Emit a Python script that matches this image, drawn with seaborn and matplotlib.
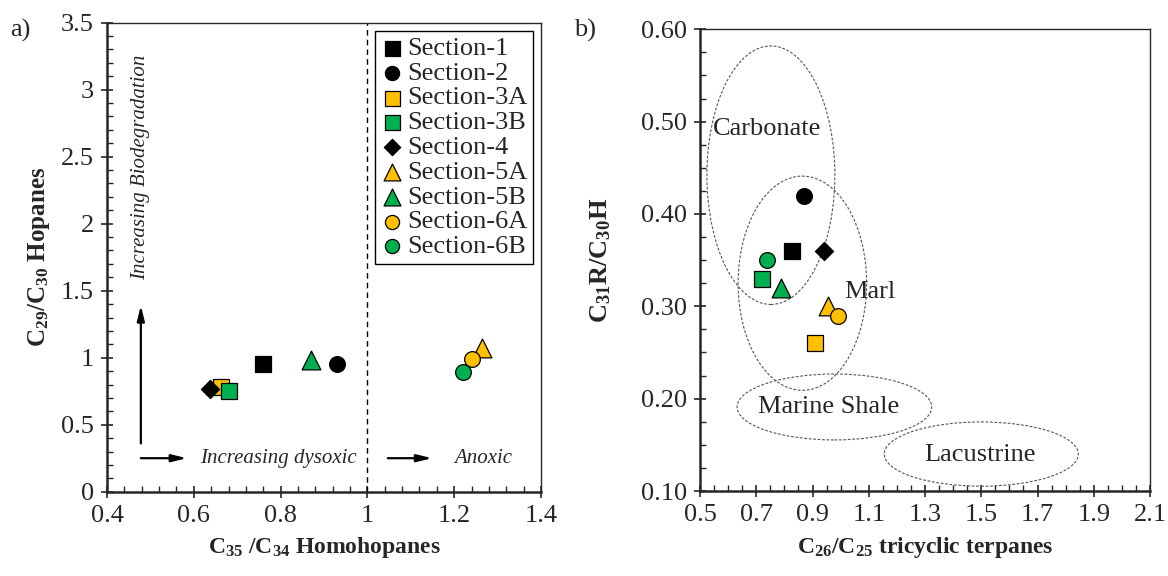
import numpy as np
import matplotlib
matplotlib.use("Agg")
import matplotlib.pyplot as plt
from matplotlib.patches import Ellipse
from matplotlib.ticker import MultipleLocator
import seaborn as sns

# ---- data -------------------------------------------------------------
sections = ["Section-1", "Section-2", "Section-3A", "Section-3B", "Section-4",
            "Section-5A", "Section-5B", "Section-6A", "Section-6B"]
markers = ["s", "o", "s", "s", "D", "^", "^", "o", "o"]
colors = ["#000000", "#000000", "#FFC000", "#00B050", "#000000",
          "#FFC000", "#00B050", "#FFC000", "#00B050"]
sizes = [144, 128, 144, 144, 85, 182, 182, 128, 128]

# panel a: C35/C34 homohopanes vs C29/C30 hopanes
homohopane_ratio = [0.76, 0.93, 0.663, 0.681, 0.637, 1.264, 0.87, 1.241, 1.22]
hopane_ratio = [0.95, 0.95, 0.78, 0.755, 0.77, 1.07, 0.98, 0.99, 0.89]

# panel b: C26/C25 tricyclic terpanes vs C31R/C30H
tricyclic_ratio = [0.828, 0.869, 0.909, 0.719, 0.94, 0.956, 0.788, 0.992, 0.739]
c31r_ratio = [0.36, 0.42, 0.26, 0.33, 0.36, 0.30, 0.32, 0.29, 0.35]

# tick labels
a_xticks = [0.4, 0.6, 0.8, 1.0, 1.2, 1.4]
a_xticklabels = ["0.4", "0.6", "0.8", "1", "1.2", "1.4"]
a_yticks = [0, 0.5, 1, 1.5, 2, 2.5, 3, 3.5]
a_yticklabels = ["0", "0.5", "1", "1.5", "2", "2.5", "3", "3.5"]
b_xticks = [0.5, 0.7, 0.9, 1.1, 1.3, 1.5, 1.7, 1.9, 2.1]
b_xticklabels = ["0.5", "0.7", "0.9", "1.1", "1.3", "1.5", "1.7", "1.9", "2.1"]
b_yticks = [0.10, 0.20, 0.30, 0.40, 0.50, 0.60]
b_yticklabels = ["0.10", "0.20", "0.30", "0.40", "0.50", "0.60"]

# depositional environment fields: name, centre x, centre y, width, height
env_names = ["Carbonate", "Marl", "Marine Shale", "Lacustrine"]
env_cx = [0.752, 0.864, 0.978, 1.50]
env_cy = [0.442, 0.325, 0.191, 0.140]
env_w = [0.455, 0.457, 0.692, 0.690]
env_h = [0.280, 0.232, 0.0714, 0.0696]
env_label_x = [0.74, 1.105, 0.956, 1.496]
env_label_y = [0.4925, 0.315, 0.191, 0.139]

# ---- style ------------------------------------------------------------
sns.set_style("ticks")
plt.rcParams["font.family"] = ["Liberation Serif", "DejaVu Serif"]
plt.rcParams["mathtext.fontset"] = "custom"
plt.rcParams["mathtext.rm"] = "Liberation Serif"
plt.rcParams["mathtext.it"] = "Liberation Serif:italic"
plt.rcParams["mathtext.bf"] = "Liberation Serif:bold"
plt.rcParams["mathtext.default"] = "regular"

FS_TICK = 19
FS_LABEL = 17

fig = plt.figure(figsize=(11.68, 5.76), dpi=100)
ax1 = fig.add_axes([107 / 1168, 1 - 491.7 / 576, 434 / 1168, 469 / 576])
ax2 = fig.add_axes([700 / 1168, 1 - 491 / 576, 450 / 1168, 461.7 / 576])


def style_axes(ax):
    for side in ("left", "bottom"):
        ax.spines[side].set_linewidth(1.8)
    for side in ("top", "right"):
        ax.spines[side].set_linewidth(1.0)
        ax.spines[side].set_visible(True)
    ax.tick_params(which="major", direction="inout", length=9, width=1.2,
                   labelsize=FS_TICK, pad=5, top=False, right=False)
    ax.tick_params(which="minor", direction="in", length=4.5, width=1.0,
                   top=False, right=False)
    ax.grid(False)


def draw_points(ax, xs, ys):
    for name, x, y, m, c, s in zip(sections, xs, ys, markers, colors, sizes):
        sns.scatterplot(x=[x], y=[y], marker=m, s=s, color=c,
                        edgecolor="black", linewidth=0.9, ax=ax,
                        label=name, legend=False, zorder=3)


# ---- panel a ----------------------------------------------------------
draw_points(ax1, homohopane_ratio, hopane_ratio)
ax1.set_xlim(0.4, 1.4)
ax1.set_ylim(0, 3.5)
ax1.set_xticks(a_xticks)
ax1.set_xticklabels(a_xticklabels)
ax1.set_yticks(a_yticks)
ax1.set_yticklabels(a_yticklabels)
ax1.xaxis.set_minor_locator(MultipleLocator(0.04))
ax1.yaxis.set_minor_locator(MultipleLocator(0.1))
style_axes(ax1)
ax1.set_xlabel(r"C$_{35}$ /C$_{34}$ Homohopanes", fontsize=FS_LABEL,
               fontweight="bold", labelpad=6)
ax1.set_ylabel(r"C$_{29}$/C$_{30}$ Hopanes", fontsize=FS_LABEL + 1,
               fontweight="bold", labelpad=6)

ax1.axvline(1.0, color="black", linestyle=(0, (4, 3)), linewidth=1.0,
            zorder=1)

arrow_kw = dict(arrowstyle="-|>,head_width=0.22,head_length=0.9",
                color="black", lw=1.6, shrinkA=0, shrinkB=0)
ax1.annotate("", xy=(0.478, 1.39), xytext=(0.478, 0.36),
             arrowprops=arrow_kw)
ax1.annotate("", xy=(0.584, 0.25), xytext=(0.478, 0.25),
             arrowprops=arrow_kw)
ax1.annotate("", xy=(1.149, 0.25), xytext=(1.047, 0.25),
             arrowprops=arrow_kw)
ax1.text(0.478, 2.42, "Increasing Biodegradation", rotation=90,
         fontsize=15, style="italic", ha="center", va="center")
ax1.text(0.796, 0.25, "Increasing dysoxic", fontsize=15, style="italic",
         ha="center", va="center")
ax1.text(1.266, 0.25, "Anoxic", fontsize=15, style="italic",
         ha="center", va="center")

handles, labels = ax1.get_legend_handles_labels()
leg = ax1.legend(handles, labels, loc="upper right",
                 bbox_to_anchor=(0.982, 0.982), borderaxespad=0,
                 fontsize=FS_TICK, frameon=True, fancybox=False, shadow=False,
                 handlelength=0.9, handletextpad=0.15, labelspacing=0.05,
                 borderpad=0.2, markerscale=0.9)
leg.get_frame().set_edgecolor("black")
leg.get_frame().set_linewidth(1.0)
leg.get_frame().set_alpha(1)

# ---- panel b ----------------------------------------------------------
for cx, cy, w, h in zip(env_cx, env_cy, env_w, env_h):
    ax2.add_patch(Ellipse((cx, cy), w, h, fill=False, edgecolor="#555555",
                          linestyle=(0, (2.5, 1.5)), linewidth=0.8,
                          zorder=1))
for name, lx, ly in zip(env_names, env_label_x, env_label_y):
    ax2.text(lx, ly, name, fontsize=19, ha="center", va="center", zorder=2)

draw_points(ax2, tricyclic_ratio, c31r_ratio)
ax2.set_xlim(0.5, 2.1)
ax2.set_ylim(0.10, 0.60)
ax2.set_xticks(b_xticks)
ax2.set_xticklabels(b_xticklabels)
ax2.set_yticks(b_yticks)
ax2.set_yticklabels(b_yticklabels)
ax2.xaxis.set_minor_locator(MultipleLocator(0.05))
ax2.yaxis.set_minor_locator(MultipleLocator(0.025))
style_axes(ax2)
ax2.set_xlabel(r"C$_{26}$/C$_{25}$ tricyclic terpanes", fontsize=FS_LABEL,
               fontweight="bold", labelpad=6)
ax2.set_ylabel(r"C$_{31}$R/C$_{30}$H", fontsize=FS_LABEL + 2,
               fontweight="bold", labelpad=20)

fig.text(20 / 1168, 1 - 30 / 576, "a)", fontsize=19, ha="center",
         va="center")
fig.text(585 / 1168, 1 - 30 / 576, "b)", fontsize=19, ha="center",
         va="center")

fig.savefig("out.png", dpi=100)
